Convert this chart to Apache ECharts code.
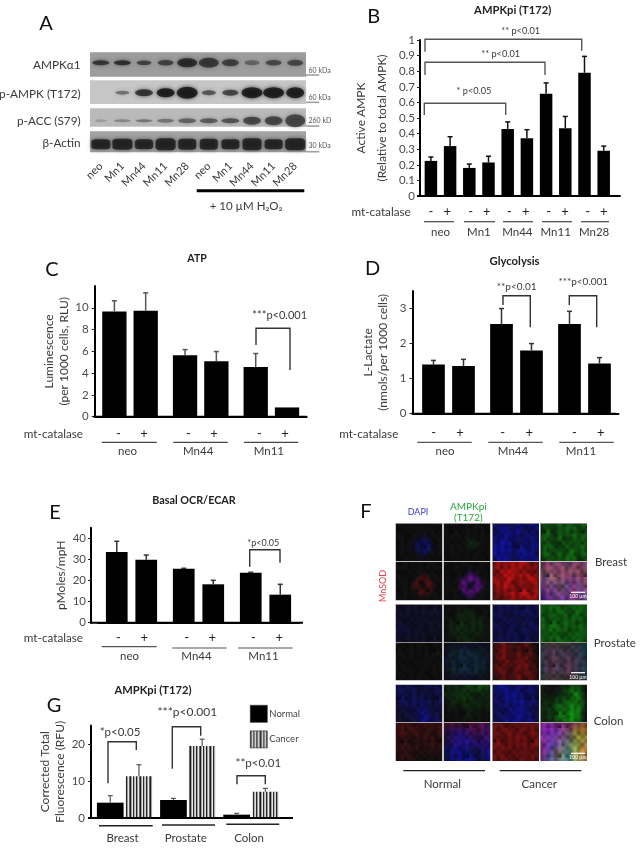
<!DOCTYPE html>
<html><head><meta charset="utf-8">
<style>html,body{margin:0;padding:0;background:#fff}#c{width:641px;height:848px}</style>
<script src="https://cdn.jsdelivr.net/npm/echarts@6/dist/echarts.min.js"></script>
</head><body><div id="c"></div>
<script>
// ---------- data: panel B
const bGroups=['neo','Mn1','Mn44','Mn11','Mn28'];
const bMinus=[0.225,0.18,0.43,0.655,0.79];
const bPlus=[0.32,0.215,0.37,0.435,0.29];
const bMinusTop=[0.25,0.205,0.475,0.725,0.895];
const bPlusTop=[0.38,0.255,0.425,0.51,0.32];
const bTicks=[0,0.1,0.2,0.3,0.4,0.5,0.6,0.7,0.8,0.9,1];
// panel C
const cGroups=['neo','Mn44','Mn11'];
const cMinus=[9.66,5.64,4.56];
const cPlus=[9.72,5.09,0.85];
const cMinusTop=[10.64,6.16,5.8];
const cPlusTop=[11.37,5.98,0.85];
const cTicks=[0,2,4,6,8,10];
// panel D
const dGroups=['neo','Mn44','Mn11'];
const dMinus=[1.40,2.56,2.56];
const dPlus=[1.36,1.80,1.43];
const dMinusTop=[1.52,3.0,2.92];
const dPlusTop=[1.55,2.0,1.6];
const dTicks=[0,1,2,3];
// panel E
const eGroups=['neo','Mn44','Mn11'];
const eMinus=[33.5,25.6,23.7];
const ePlus=[29.9,18.2,13.3];
const eMinusTop=[38.6,25.8,23.9];
const ePlusTop=[32.1,20.1,18.2];
const eTicks=[0,10,20,30,40];
// panel G
const gGroups=['Breast','Prostate','Colon'];
const gNormal=[4.14,4.86,0.9];
const gCancer=[11.26,19.46,7.1];
const gNormalTop=[6.04,5.3,1.26];
const gCancerTop=[14.4,21.3,8.0];
const gTicks=[0,10,20];
// panel A blot
const laneNames=['neo','Mn1','Mn44','Mn11','Mn28','neo','Mn1','Mn44','Mn11','Mn28'];
const blotNames=['AMPKα1','p-AMPK (T172)','p-ACC (S79)','β-Actin'];
const blotKDa=['60 kDa','60 kDa','260 kD','30 kDa'];
const blot1Width=[17,17,15,16,20,20,17,15,16,16];
const blot1Height=[5,5,4.5,5.5,9,10,7,5,5.5,6];
const blot1Dark=[.8,.85,.7,.7,.85,.75,.7,.45,.65,.65];
const blot2Width=[0,14,18,18,21,14,16,21,21,18];
const blot2Height=[0,4,7,9,12,5,6,11,11,11];
const blot2Dark=[0,.5,.85,1,1,.65,.75,1,1,1];
const blot3Width=[12,17,17,17,18,18,18,18,18,20];
const blot3Height=[3,3,3,4,5,5,5,8,9,13];
const blot3Dark=[.2,.35,.45,.45,.55,.6,.65,.7,.7,.7];
const blot4Width=[19,20,18,20,18,18,18,19,18,20];
const blot4Height=[10,11,10,12,11,11,10,12,10,12];
const blot4Dark=[.9,.9,.9,.9,.9,.9,.9,.9,.9,.9];
// panel F: hand-read brightness maps per channel (digit = brightness), rows top to bottom
const tileMaps=[
 [{b:'000000000000/000000000000/000000000000/000000110000/000001331000/000013443100/000013343100/000001331000/000000110000/000000000000'},
  {g:'000000000000/000000000000/000000000000/000000000000/000000110000/000001111000/000000110000/000000000000/000000000000/000000000000'},
  {b:'54535455/35646355/56563546/46753647/67645654/56735675'},{g:'32343434/24234342/43242434/24324243/34243534/23434423'}],
 [{r:'000000000000/000000000000/000000000000/000000110000/000001331000/000013023100/000013023100/000001331000/000000110000/000000000000'},
  {r:'000000000000/000000000000/000000000000/000000220000/000003443000/000024014200/000024014200/000003443000/000000220000/000000000000',b:'000000000000/000000000000/000000110000/000001331000/000014664100/000036126300/000036126300/000014664100/000001331000/000000110000'},
  {r:'57668654/66887665/76986787/67866576/45677867/53575685'},{r:'46564656/57676675/64767567/46554656/35465756/24454654',b:'35445546/44554444/55455545/55646664/65657576/66576667',g:'22323232/33333333/33433233/23333232/12233233/11222223'}],
 [{b:'111111/111111/211111/221111/111111'},{g:'000000/001100/011110/011110/001100'},{b:'333333/332333/333233/323333/333332'},{g:'344444/434344/444434/344344/434443'}],
 [{},{b:'011110/112211/122221/112211/011110',g:'000000/011110/011110/011110/000000'},{r:'14522510/15424230/14534521/24425431/13325342'},{r:'12322210/13323220/13433321/13324321/12323220',g:'222222/222222/222222/222222/222222',b:'222222/333333/333333/333333/222222'}],
 [{b:'332232/333223/233423/123522/112652'},{g:'111232/112111/011111/000100/000000'},{b:'465443/356543/345643/345642/346653'},{g:'100230/101360/112361/124561/124660/113560'}],
 [{r:'222222/322212/211121/121111/111000'},{r:'232342/111223/111112/000001/000000',b:'121233/245335/256546/356337/255625'},{r:'444444/445454/544545/454444/444444'},{r:'666566/755568/756477/745478/646389/535378',g:'111133/112355/223476/124585/135685/145685',b:'776421/887421/887522/787432/674632/575643'}]
];
const tileMottle='9628475937/3859162748/7241938562/5916283749/2784519637/8359267148/4627395816/9158472630';
const tileCols=[[396,46],[444,46],[492.5,46],[540.5,46]];
const tileRows=[[523.5,37],[562,38],[604.5,37],[642.5,37.5],[685,37],[723,37.5]];

// ---------- helpers
const FONT='Lato, "Open Sans", sans-serif';
const grids=[],xAxes=[],yAxes=[],series=[],gfx=[];
function T(x,y,s,o={}){gfx.push({type:'text',z:50,style:{x,y,text:s,fill:o.c||'#3a3a3a',font:(o.w||'normal')+' '+(o.s||12)+'px '+FONT,textAlign:o.a||'center',textVerticalAlign:'middle'},rotation:o.r||0,originX:x,originY:y});}
function L(pts,c,w){gfx.push({type:'polyline',z:40,shape:{points:pts},style:{stroke:c||'#333',lineWidth:w||1.4,fill:null}});}
function bracket(x1,x2,top,b1,b2,c){L([[x1,b1],[x1,top],[x2,top],[x2,b2]],c||'#444',1.4);}
function stripes(){const c=document.createElement('canvas');c.width=10;c.height=2;const x=c.getContext('2d');
 ['#1c1c1c','#a0a0a0','#e6e6e6','#2a2a2a','#b0b0b0','#dddddd','#222222','#999999','#e6e6e6','#666666'].forEach((k,i)=>{x.fillStyle=k;x.fillRect(i,0,1,2);});return c;}
const cancerFill={image:stripes(),repeat:'repeat'};
function errorSeries(xi,name,tops,vals,dx,col,w){
 series.push({type:'custom',name:name+' error',xAxisIndex:xi,yAxisIndex:xi,z:3,silent:true,
  data:tops.map((t,i)=>[i,t,vals[i]]),
  encode:{x:0,y:1},
  renderItem(p,api){const a=api.coord([api.value(0),api.value(1)]),b=api.coord([api.value(0),api.value(2)]);
   if(Math.abs(a[1]-b[1])<0.01)return null;
   const x=a[0]+dx;const st={stroke:col,lineWidth:w,fill:null};
   return {type:'group',children:[
    {type:'line',shape:{x1:x,y1:b[1],x2:x,y2:a[1]},style:st},
    {type:'line',shape:{x1:x-2.5,y1:a[1],x2:x+2.5,y2:a[1]},style:st}]};}});
}
function panel(p){
 const xi=grids.length;
 grids.push({left:p.left,top:p.top,width:p.width,height:p.height,containLabel:false});
 xAxes.push({type:'category',gridIndex:xi,data:p.groups,axisTick:{show:false},
  axisLine:{lineStyle:{color:'#000',width:2}},
  axisLabel:{margin:p.labelMargin,color:'#3a3a3a',fontSize:p.labelSize||11.5,fontFamily:FONT,padding:p.labelPad||0,interval:0}});
 yAxes.push({type:'value',gridIndex:xi,min:0,max:p.max,offset:p.yOffset||0,splitLine:{show:false},
  axisLine:{show:true,onZero:false,lineStyle:{color:'#000',width:2}},
  axisTick:{show:true,length:3,customValues:p.ticks,lineStyle:{color:'#222',width:1}},
  axisLabel:{customValues:p.ticks,margin:p.tickMargin||5,color:'#4a4a4a',fontSize:p.tickSize||11.5,fontFamily:FONT},
  name:p.yName,nameLocation:'middle',nameRotate:90,nameGap:p.nameGap,
  nameTextStyle:{color:'#3a3a3a',fontSize:p.nameSize||12,fontFamily:FONT,lineHeight:p.nameLine||15}});
 const gap=(p.spacing-p.barWidth)/p.barWidth*100+'%';
 const mk=(name,data,fill,extra)=>({type:'bar',name,data,xAxisIndex:xi,yAxisIndex:xi,barWidth:p.barWidth,barGap:gap,silent:true,itemStyle:Object.assign({color:fill},extra||{}),z:2});
 series.push(mk(p.names[0],p.a,'#000'));
 series.push(mk(p.names[1],p.b,p.fillB||'#000',p.edgeB));
 errorSeries(xi,p.names[0],p.aTop,p.a,-p.spacing/2,p.errColor||'#222',p.errW||1.5);
 errorSeries(xi,p.names[1],p.bTop,p.b,p.spacing/2,p.errColor||'#222',p.errW||1.5);
 const base=p.top+p.height;
 L([[p.axisFrom,base],[p.axisTo,base]],'#000',2);
}
function catalaseRow(y,textRight,xs){
 T(textRight,y+1,'mt-catalase',{a:'right',s:11.7});
 xs.forEach((x,i)=>T(x,y,i%2?'+':'-',{s:13,c:'#222'}));
}
function under(segs,y,c,w){segs.forEach(s=>L([[s[0],s[2]||y],[s[1],s[2]||y]],c||'#444',w||1.2));}

// ---------- Panel A : blots as scatter bands on lane axes
const blotGrids=[[52.3,24.4,'#9d9d9d',.57,blot1Width,blot1Height,blot1Dark,'circle'],
 [80.3,23.7,'#c6c6c6',.477,blot2Width,blot2Height,blot2Dark,'circle'],
 [108.3,18.4,'#bababa',.326,blot3Width,blot3Height,blot3Dark,'circle'],
 [131.3,21,'#a3a3a3',.38,blot4Width,blot4Height,blot4Dark,'roundRect']];
blotGrids.forEach((g,r)=>{
 const xi=grids.length,last=r===3;
 grids.push({left:90,top:g[0],width:216,height:g[1],show:true,backgroundColor:g[2],borderWidth:0});
 xAxes.push({type:'category',gridIndex:xi,data:laneNames,axisLine:{show:false},axisTick:{show:false},
  axisLabel:{show:last,interval:0,rotate:45,margin:12,color:'#3a3a3a',fontSize:11,fontFamily:FONT}});
 yAxes.push({type:'value',gridIndex:xi,min:0,max:1,show:false});
 series.push({type:'scatter',name:blotNames[r],xAxisIndex:xi,yAxisIndex:xi,silent:true,z:2,
  data:g[4].map((w,i)=>({value:[i,g[3]],symbol:g[7],symbolSize:[w,g[5][i]],
   itemStyle:{color:'rgba(15,15,15,'+g[6][i]+')',shadowBlur:4,shadowColor:'rgba(15,15,15,'+g[6][i]*0.9+')'}}))});
 T(80.7,[65,94.3,120.7,142.7][r],blotNames[r],{a:'right',s:11.8});
 T(308.5,[70.7,97.3,120.7,146][r],blotKDa[r],{a:'left',s:7,c:'#555'});
 L([[306,[75,102.3,126,151.7][r]],[319.3,[75,102.3,126,151.7][r]]],'#a0a0a0',1.6);
});
L([[196.7,190.7],[304.3,190.7]],'#000',3);
T(246,206.5,'+ 10 µM H₂O₂',{s:11.5});
T(46,24,'A',{s:20,c:'#111'});

// ---------- Panel B
panel({left:421.3,top:40,width:192,height:156,groups:bGroups,a:bMinus,b:bPlus,aTop:bMinusTop,bTop:bPlusTop,names:['− mt-catalase','+ mt-catalase'],
 max:1,ticks:bTicks,yOffset:1.3,spacing:19.2,barWidth:12.5,labelMargin:30,labelPad:[0,0,0,0],
 yName:'Active AMPK\n(Relative to total AMPK)',nameGap:27,nameLine:21,axisFrom:417,axisTo:620.7,tickMargin:5,errColor:'#111'});
T(512.7,10.7,'AMPKpi (T172)',{w:'bold',s:11.2,c:'#222'});
T(373.7,16.7,'B',{s:20,c:'#111'});
bracket(425,581.7,39.3,51.7,50.7,'#555');T(520.7,30.7,'** p<0.01',{s:9.2});
bracket(425,545,62.3,75,75,'#555');T(500.7,54.3,'** p<0.01',{s:9.2});
bracket(424.3,505.7,103.3,115,115,'#555');T(474,90.7,'* p<0.05',{s:9.2});
catalaseRow(211.7,410.7,[431,447.3,470.7,486.7,509.3,525.7,548.7,565,587.7,603.7]);
under([[424,454],[464,495],[503,533],[542,572],[581,609]],221.7);

// ---------- Panel C
panel({left:94.7,top:286,width:212,height:130.7,groups:cGroups,a:cMinus,b:cPlus,aTop:cMinusTop,bTop:cPlusTop,names:['− mt-catalase','+ mt-catalase'],
 max:12,ticks:cTicks,spacing:31.3,barWidth:24.3,labelMargin:29,labelPad:[0,5,0,0],
 yName:'Luminescence\n(per 1000 cells, RLU)',nameGap:23,nameLine:15,axisFrom:93.5,axisTo:306.7,tickMargin:6,errColor:'#555'});
T(197,259,'ATP',{w:'bold',s:10.5,c:'#222'});
T(52,270,'C',{s:20,c:'#111'});
bracket(256,290,328.3,345,370,'#333');T(279.7,315,'***p<0.001',{s:11});
catalaseRow(433.5,83,[118.3,144,188.3,214,259.3,285]);
under([[101.7,156.7],[173.3,227.7],[244,298.3]],442.3,'#444');

// ---------- Panel D
panel({left:414.5,top:291,width:204,height:122.7,groups:dGroups,a:dMinus,b:dPlus,aTop:dMinusTop,bTop:dPlusTop,names:['− mt-catalase','+ mt-catalase'],
 max:3.5,ticks:dTicks,yOffset:2,spacing:30,barWidth:22.7,labelMargin:32,labelPad:[0,7,0,0],
 yName:'L-Lactate\n(nmols/per 1000 cells)',nameGap:22,nameLine:15,axisFrom:411.5,axisTo:616,tickMargin:6,errColor:'#333'});
T(514.5,261.5,'Glycolysis',{w:'bold',s:11.3,c:'#222'});
T(372.7,269,'D',{s:20,c:'#111'});
bracket(503,530.3,295.7,305,327.3,'#333');T(516.7,286.7,'**p<0.01',{s:10});
bracket(569.3,596.7,295.7,305,327.3,'#333');T(583.3,281.3,'***p<0.001',{s:10});
catalaseRow(433,398.3,[433.7,460,502.7,529.3,574.3,600.7]);
under([[417.3,471.7],[488.3,542.7],[559.3,613.7]],442.3,'#555');

// ---------- Panel E
panel({left:98,top:527.8,width:201,height:94.9,groups:eGroups,a:eMinus,b:ePlus,aTop:eMinusTop,bTop:ePlusTop,names:['− mt-catalase','+ mt-catalase'],
 max:45,ticks:eTicks,yOffset:7,spacing:29.5,barWidth:21.7,labelMargin:28,labelPad:[0,4,0,0],
 yName:'pMoles/mpH',nameGap:15,axisFrom:90,axisTo:303,tickMargin:5,errColor:'#333'});
T(194,501,'Basal OCR/ECAR',{w:'bold',s:10.8,c:'#222'});
T(55,512.7,'E',{s:20,c:'#111'});
bracket(249.7,280,549.7,566.7,562.7,'#333');T(263.3,542.7,'*p<0.05',{s:9});
catalaseRow(637.5,83,[118.3,144.3,186.7,212.3,253.3,279.3]);
under([[101.7,156.7,646.7],[172.3,226.7,648],[238,292.7,648]],648,'#555');

// ---------- Panel G
panel({left:93,top:725.5,width:189.6,height:92.5,groups:gGroups,a:gNormal,b:gCancer,aTop:gNormalTop,bTop:gCancerTop,names:['Normal','Cancer'],
 max:25,ticks:gTicks,yOffset:2,spacing:28.7,barWidth:26.7,labelMargin:14,labelSize:11.5,labelPad:[0,4,0,0],fillB:cancerFill,
 yName:'Corrected Total\nFluorescence (RFU)',nameGap:6,nameLine:15,axisFrom:88,axisTo:293,tickMargin:6,errColor:'#555',errW:1.2});
T(153,690,'AMPKpi (T172)',{w:'bold',s:11.2,c:'#222'});
T(54,705.7,'G',{s:20,c:'#111'});
bracket(108,136.3,741.7,783.3,750,'#333');T(120,732,'*p<0.05',{s:11.5});
bracket(172.3,200.7,726.7,768.7,735.7,'#333');T(187.3,711.7,'***p<0.001',{s:12});
bracket(237,265.3,775.7,784.3,784.3,'#333');T(258.3,763.3,'**p<0.01',{s:11.5});
under([[99,152.7,825.7],[162,215,825],[226.3,279.3,824.3]],825,'#222',1.6);

// ---------- Panel F tiles
const mottle=(()=>{const rows=tileMottle.split('/'),n=rows[0].length,m=rows.length;
 const s=document.createElement('canvas');s.width=n;s.height=m;const x=s.getContext('2d');const id=x.createImageData(n,m);
 rows.forEach((r,j)=>[...r].forEach((d,i)=>{const o=(j*n+i)*4,v=95+(+d)*18;id.data[o]=id.data[o+1]=id.data[o+2]=v;id.data[o+3]=255;}));
 x.putImageData(id,0,0);return s;})();
function tileCanvas(map,w,h,seed){
 const c=document.createElement('canvas');c.width=w;c.height=h;const x=c.getContext('2d');
 x.fillStyle='#131314';x.fillRect(0,0,w,h);x.globalCompositeOperation='lighter';x.imageSmoothingEnabled=true;
 for(const ch of ['r','g','b']){ if(!map[ch])continue;
  const rows=map[ch].split('/'),n=rows[0].length,m=rows.length;
  const s=document.createElement('canvas');s.width=n;s.height=m;const sx=s.getContext('2d');
  const id=sx.createImageData(n,m);
  rows.forEach((row,j)=>[...row].forEach((d,i)=>{const o=(j*n+i)*4,v=(+d)*24;
   id.data[o]=ch==='r'?v:0;id.data[o+1]=ch==='g'?v:0;id.data[o+2]=ch==='b'?v:0;id.data[o+3]=255;}));
  sx.putImageData(id,0,0);
  x.drawImage(s,-w/n/2,-h/m/2,w+w/n,h+h/m);
 }
 x.globalCompositeOperation='multiply';
 const mw=38,mh=30;
 for(let ix=-1;ix<3;ix++)for(let iy=-1;iy<3;iy++)x.drawImage(mottle,ix*mw-seed*7%mw,iy*mh-seed*5%mh,mw,mh);
 return c;
}
tileMaps.forEach((row,j)=>row.forEach((m,i)=>{
 const [tx,tw]=tileCols[i],[ty,th]=tileRows[j];
 gfx.push({type:'rect',z:20,shape:{x:tx-.5,y:ty-.5,width:tw+1,height:th+1},style:{fill:'#8c8c8c'}});
 gfx.push({type:'image',z:21,style:{image:tileCanvas(m,tw,Math.round(th),i*3+j*5+1),x:tx,y:ty,width:tw,height:th}});
}));
[[592.3,596.3],[672.7,677],[753.3,757.7]].forEach(p=>{L([[571,p[0]],[585,p[0]]],'#fff',1.2);T(578,p[1],'100 µm',{s:5,c:'#fff'});});
T(366,512,'F',{s:20,c:'#111'});
T(418,511.7,'DAPI',{s:9,c:'#3a3ad0'});
T(468.3,506.7,'AMPKpi',{s:10,c:'#2aa53a'});
T(468.3,517.7,'(T172)',{s:10,c:'#2aa53a'});
T(383.3,586,'MnSOD',{s:9,c:'#e8404f',r:Math.PI/2});
T(595,562.7,'Breast',{a:'left',s:11.5});
T(593.7,643.7,'Prostate',{a:'left',s:11.5});
T(593.7,721.7,'Colon',{a:'left',s:11.5});
L([[403.3,770.7],[485,770.7]],'#222',1.2);L([[499.7,770.7],[581.3,770.7]],'#222',1.2);
T(442.3,784.7,'Normal',{s:11.5});T(539.3,784.7,'Cancer',{s:11.5});

const chart=echarts.init(document.getElementById('c'),null,{renderer:'canvas'});
chart.setOption({animation:false,backgroundColor:'#fff',textStyle:{fontFamily:FONT},
 grid:grids,xAxis:xAxes,yAxis:yAxes,series,
 legend:{data:['Normal','Cancer'],orient:'vertical',left:245,top:700,itemWidth:17,itemHeight:17,itemGap:8,icon:'rect',selectedMode:false,
  textStyle:{fontSize:9.5,color:'#444',fontFamily:FONT,padding:[0,0,0,-3]},itemStyle:{borderColor:'#222',borderWidth:.6}},
 graphic:{elements:gfx}});
</script></body></html>
